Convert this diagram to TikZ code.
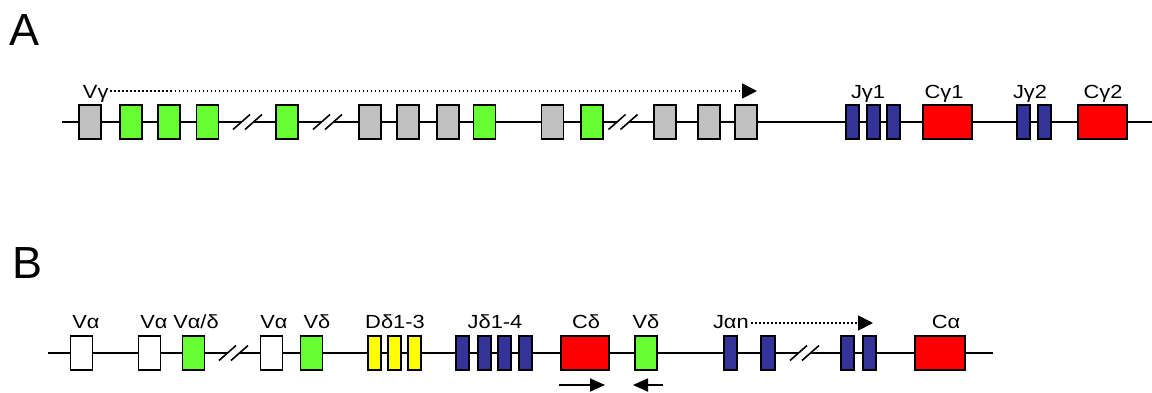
\documentclass[tikz,border=0pt]{standalone}
\usepackage{fontspec}
\setmainfont{Liberation Sans}
\newfontfamily\genelabelfont[FakeStretch=1.15]{Liberation Sans}
\usetikzlibrary{arrows.meta}
\definecolor{vgray}{HTML}{C0C0C0}
\definecolor{vgreen}{HTML}{66FF33}
\definecolor{jblue}{HTML}{333399}
\definecolor{cred}{HTML}{FF0000}
\definecolor{dyellow}{HTML}{FFFF00}
% gap in the locus: white patch over the backbone plus two slashes
\newcommand\genecut[3]{%
  \node[fill=white, minimum width=6pt, minimum height=3pt] (#1) at (#2,#3) {};
  \draw[cut] ([shift={(-14.5,7.5)}]#1.center) -- ++(17,-15);
  \draw[cut] ([shift={(-2.5,7.5)}]#1.center) -- ++(17,-15);
}
\begin{document}
\begin{tikzpicture}[x=0.5pt,y=-0.5pt,
  every node/.style={inner sep=0pt, outer sep=0pt},
  backbone/.style={line width=0.9pt},
  exon/.style={draw=black, line width=0.85pt, minimum height=16.8pt},
  vseg/.style={exon, minimum width=11pt},
  jseg/.style={exon, minimum width=6.8pt},
  cseg/.style={exon, minimum width=24.7pt},
  lbl/.style={anchor=base, font=\genelabelfont\fontsize{9.5}{10}\selectfont},
  lblw/.style={lbl, anchor=base west},
  panel/.style={anchor=base west, font=\fontsize{22.5}{24}\selectfont},
  span/.style={line width=0.9pt, dash pattern=on 0.9pt off 1.1pt,
    -{Triangle[length=7.5pt,width=7.5pt]}},
  orient/.style={line width=0.9pt, -{Triangle[length=7.5pt,width=6.5pt]}},
  cut/.style={line width=0.8pt}
]
\useasboundingbox (0,0) rectangle (1152,392);

% ---------------- panel A: TCR gamma locus ----------------
\node[panel] (pA) at (10,45) {A};
\coordinate (aL) at (62,122);
\coordinate (aR) at (1152,122);
\draw[backbone] (aL) -- (aR);
\genecut{ac1}{247.5}{122}
\genecut{ac2}{327.5}{122}
\genecut{ac3}{623}{122}
\foreach \n/\x/\c in {v1/90/vgray, v2/131/vgreen, v3/169/vgreen, v4/207.5/vgreen,
    v5/287/vgreen, v6/370/vgray, v7/408/vgray, v8/448/vgray, v9/484.5/vgreen,
    v10/552.5/vgray, v11/592/vgreen, v12/665/vgray, v13/709/vgray, v14/746/vgray}
  \node[vseg, fill=\c] (\n) at (\x,122) {};
\foreach \n/\x in {jg1a/852.5, jg1b/873.5, jg1c/893.5, jg2a/1023.5, jg2b/1044.5}
  \node[jseg, fill=jblue] (\n) at (\x,122) {};
\node[cseg, fill=cred] (cg1) at (947.5,122) {};
\node[cseg, fill=cred] (cg2) at (1102.5,122) {};

\node[lblw] (lvg) at (83,98) {Vγ};
\coordinate (vgEnd) at (757,91);
\draw[span] ([xshift=1pt]lvg.east |- vgEnd) -- (vgEnd);
\node[lbl] (ljg1) at (868,98) {Jγ1};
\node[lbl] (lcg1) at (944,98) {Cγ1};
\node[lbl] (ljg2) at (1030,98) {Jγ2};
\node[lbl] (lcg2) at (1103,98) {Cγ2};

% ---------------- panel B: TCR alpha/delta locus ----------------
\node[panel] (pB) at (12,278) {B};
\coordinate (bL) at (48,353);
\coordinate (bR) at (993,353);
\draw[backbone] (bL) -- (bR);
\genecut{bc1}{233.5}{353}
\genecut{bc2}{804.5}{353}
\foreach \n/\x/\c in {u1/81.5/white, u2/149.5/white, g1/193.5/vgreen,
    u3/271.5/white, g2/311.5/vgreen, vd/646/vgreen}
  \node[vseg, fill=\c] (\n) at (\x,353) {};
\foreach \n/\x in {dd1/374.5, dd2/394.5, dd3/414.5}
  \node[jseg, fill=dyellow] (\n) at (\x,353) {};
\foreach \n/\x in {jd1/462.5, jd2/484.5, jd3/504.5, jd4/525.5,
    ja1/730.5, ja2/768, ja3/847.5, ja4/869.5}
  \node[jseg, fill=jblue] (\n) at (\x,353) {};
\node[cseg, fill=cred, minimum width=24.2pt] (cd) at (585,353) {};
\node[cseg, fill=cred, minimum width=25.2pt] (ca) at (940,353) {};

\node[lbl] (lva1) at (86,328) {Vα};
\node[lbl] (lva2) at (154,328) {Vα};
\node[lbl] (lvad) at (196,328) {Vα/δ};
\node[lbl] (lva3) at (274,328) {Vα};
\node[lbl] (lvd1) at (317,328) {Vδ};
\node[lbl] (ldd) at (395,328) {Dδ1-3};
\node[lbl] (ljd) at (495,328) {Jδ1-4};
\node[lbl] (lcd) at (586,328) {Cδ};
\node[lbl] (lvd2) at (646,328) {Vδ};
\node[lbl] (lca) at (946,328) {Cα};
\node[lblw] (lja) at (713,328) {Jαn};
\coordinate (jaEnd) at (873,323);
\draw[span] ([xshift=1pt]lja.east |- jaEnd) -- (jaEnd);

% transcriptional orientation below C delta and V delta
\coordinate (o1s) at (559,385);
\coordinate (o1e) at (605,385);
\coordinate (o2s) at (663,385);
\coordinate (o2e) at (633,385);
\draw[orient] (o1s) -- (o1e);
\draw[orient] (o2s) -- (o2e);
\end{tikzpicture}
\end{document}
